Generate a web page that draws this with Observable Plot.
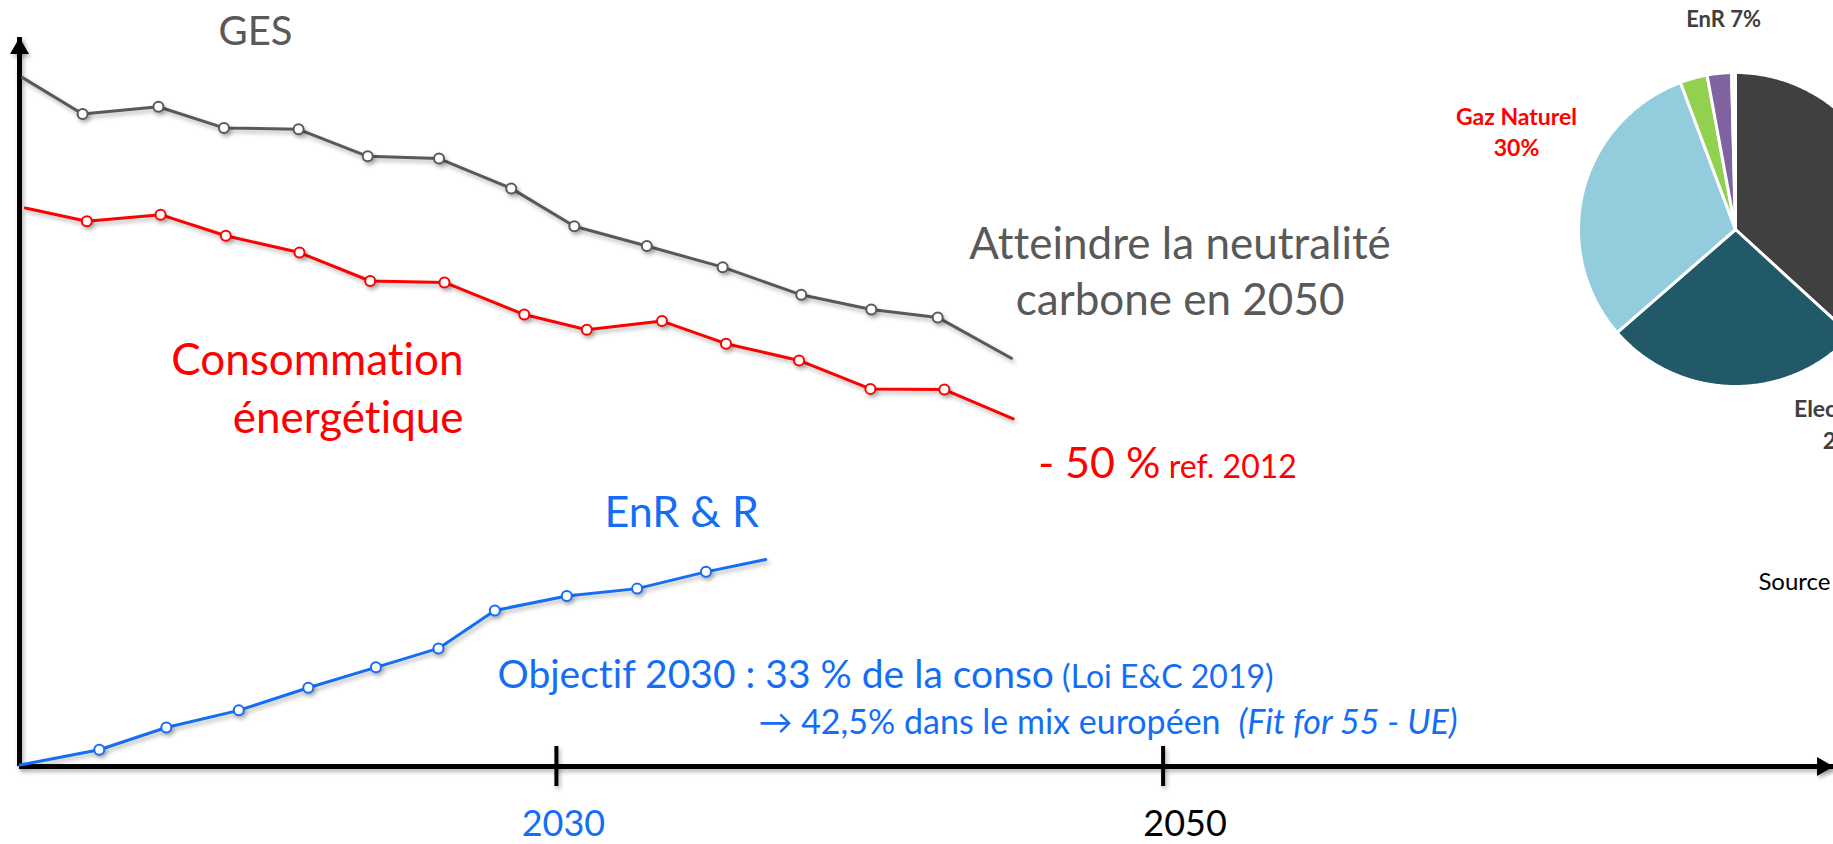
<!DOCTYPE html>
<html><head><meta charset="utf-8">
<script src="https://cdn.jsdelivr.net/npm/d3@7"></script>
<script src="https://cdn.jsdelivr.net/npm/@observablehq/plot@0.6"></script>
<style>
html,body{margin:0;padding:0;background:#fff;}
body{width:1833px;height:844px;overflow:hidden;position:relative;font-family:Lato,sans-serif;}
#main{position:absolute;left:0;top:0;width:1833px;height:844px;}
#pie{position:absolute;left:1400px;top:0;width:500px;height:620px;}
svg text{font-variant-ligatures:none;font-feature-settings:"liga" 0;}
</style></head><body>
<div id="main"></div><div id="pie"></div>
<script>
// ---------- data (schematic index values) ----------
const gesYears   = [2012.4, 2014.38, 2016.88, 2019.04, 2021.5, 2023.78, 2026.13, 2028.51, 2030.59, 2032.98, 2035.48, 2038.07, 2040.38, 2042.57, 2045.0];
const gesValues  = [94.5, 89.5, 90.5, 87.6, 87.4, 83.7, 83.4, 79.3, 74.1, 71.4, 68.5, 64.7, 62.7, 61.6, 56.0];
const consoYears  = [2012.49, 2014.52, 2016.95, 2019.1, 2021.53, 2023.86, 2026.31, 2028.94, 2031.0, 2033.48, 2035.59, 2038.0, 2040.35, 2042.79, 2045.06];
const consoValues = [76.6, 74.8, 75.7, 72.8, 70.5, 66.6, 66.4, 62.0, 59.9, 61.1, 58.0, 55.7, 51.8, 51.7, 47.7];
const enrYears  = [2012.32, 2014.93, 2017.14, 2019.53, 2021.82, 2024.05, 2026.11, 2027.97, 2030.34, 2032.66, 2034.93, 2036.9];
const enrValues = [0.2, 2.3, 5.35, 7.7, 10.8, 13.6, 16.2, 21.4, 23.4, 24.4, 26.7, 28.4];
const tickYears  = [2030, 2050];
const tickLabels = ["2030", "2050"];
const mixCategories = ["Autres", "Electricité", "Gaz Naturel", "EnR a", "EnR b", "EnR c"];
const mixShares     = [36.8, 26.8, 30.7, 2.8, 2.5, 0.4];
// texts
const gesTitle   = "GES";
const gesNote    = "Atteindre la neutralité\ncarbone en 2050";
const consoTitle = "Consommation\nénergétique";
const consoGoal  = "- 50 %";
const consoRef   = " ref. 2012";
const enrTitle   = "EnR & R";
const enrGoal1   = "Objectif 2030 : 33 % de la conso";
const enrGoal1b  = " (Loi E&C 2019)";
const enrGoal2   = "→ 42,5% dans le mix européen";
const enrGoal2b  = "(Fit for 55 - UE)";
const pieLabelEnR  = "EnR 7%";
const pieLabelGaz  = "Gaz Naturel\n30%";
const pieLabelElec = "Electricité\n27%";
const sourceLabel  = "Source";

// ---------- styles ----------
const GREY = "#595959", RED = "#FF0000", BLUE = "#146EF5";
const xDomain = [2012.3, 2072.1];
const yDomain = [0, 100];

const toRows = (xs, vs) => xs.map((year, i) => ({year, value: vs[i]}));
const ges = toRows(gesYears, gesValues);
const conso = toRows(consoYears, consoValues);
const enr = toRows(enrYears, enrValues);

function series(rows, color) {
  const n = rows.length;
  return [
    Plot.line(rows, {x: "year", y: "value", stroke: color, strokeWidth: 3}),
    Plot.dot(rows.filter((d, i) => i > 0 && i < n - 1), {x: "year", y: "value", r: 5, fill: "white", stroke: color, strokeWidth: 2})
  ];
}

const main = Plot.plot({
  width: 1833, height: 844,
  marginLeft: 19, marginRight: 0, marginTop: 37, marginBottom: 78,
  style: {fontFamily: "Lato, sans-serif", background: "transparent", overflow: "visible", maxWidth: "none"},
  x: {domain: xDomain, axis: null},
  y: {domain: yDomain, axis: null},
  marks: [
    // axes
    Plot.ruleY([yDomain[0]], {stroke: "black", strokeWidth: 5}),
    Plot.ruleX([xDomain[0]], {y1: yDomain[0], y2: yDomain[1], stroke: "black", strokeWidth: 5}),
    Plot.dot([{x: xDomain[0], y: yDomain[1]}], {x: "x", y: "y", symbol: "triangle", r: 7, fill: "black", dy: 11}),
    Plot.dot([{x: xDomain[1], y: yDomain[0]}], {x: "x", y: "y", symbol: "triangle", r: 7, fill: "black", rotate: 90, dx: -11}),
    Plot.ruleX(tickYears, {y1: -2.75, y2: 2.75, stroke: "black", strokeWidth: 4}),
    Plot.text(tickLabels.slice(0, 1), {x: () => tickYears[0], y: () => -9.6, dx: 7, lineAnchor: "bottom", fontSize: 36, fill: BLUE}),
    Plot.text(tickLabels.slice(1, 2), {x: () => tickYears[1], y: () => -9.6, dx: 22, lineAnchor: "bottom", fontSize: 36, fill: "black"}),
    // series
    ...series(ges, GREY),
    ...series(conso, RED),
    ...series(enr, BLUE),
    // annotations
    Plot.text([gesTitle], {x: () => 2020.08, y: () => 99.0, lineAnchor: "bottom", fontSize: 40, fill: GREY}),
    Plot.text([gesNote], {x: () => 2050.56, y: () => 62.0, lineAnchor: "bottom", lineHeight: 1.27, fontSize: 44, fill: GREY}),
    Plot.text([consoTitle], {x: () => 2026.94, y: () => 45.8, textAnchor: "end", lineAnchor: "bottom", lineHeight: 1.3, fontSize: 44, fill: RED}),
    Plot.text([consoGoal], {x: () => 2045.88, y: () => 39.6, textAnchor: "start", lineAnchor: "bottom", fontSize: 43, fill: RED}),
    Plot.text([enrTitle], {x: () => 2034.13, y: () => 32.8, lineAnchor: "bottom", fontSize: 43, fill: BLUE}),
    Plot.text([enrGoal1], {x: () => 2028.06, y: () => 10.8, textAnchor: "start", lineAnchor: "bottom", fontSize: 39, fill: BLUE}),
    Plot.text([enrGoal2], {x: () => 2036.66, y: () => 4.5, textAnchor: "start", lineAnchor: "bottom", fontSize: 34, fill: BLUE})
  ]
});
document.getElementById("main").appendChild(main);

// mixed-style continuations as tspans
const svgSel = d3.select(main);
function extend(base, extra, attrs) {
  svgSel.selectAll("text").filter(function() { return this.textContent === base; }).each(function() {
    const t = d3.select(this).append("tspan").text(extra);
    for (const k in attrs) t.attr(k, attrs[k]);
  });
}
extend(consoGoal, consoRef, {"font-size": 32});
extend(enrGoal1, enrGoal1b, {"font-size": 32});
extend(enrGoal2, enrGoal2b, {"font-style": "italic", "dx": 18});

// soft drop shadows like the slide
svgSel.selectAll('g[aria-label="line"], g[aria-label="dot"], g[aria-label="rule"]')
  .style("filter", "drop-shadow(2px 3px 2px rgba(0,0,0,0.28))");

// ---------- pie ----------
const R = 157, cx = 335, cy = 229, pw = 500, ph = 620;
const mix = mixCategories.map((cat, i) => ({cat, share: mixShares[i]}));
const arcs = d3.pie().sort(null).value(d => d.share)(mix);
const piePts = arcs.flatMap(a => {
  const n = Math.max(2, Math.ceil((a.endAngle - a.startAngle) / 0.01));
  const pts = [{cat: a.data.cat, u: 0, v: 0}];
  for (let k = 0; k <= n; k++) {
    const t = a.startAngle + (a.endAngle - a.startAngle) * k / n;
    pts.push({cat: a.data.cat, u: Math.sin(t), v: Math.cos(t)});
  }
  pts.push({cat: a.data.cat, u: 0, v: 0});
  return pts;
});
const pie = Plot.plot({
  width: pw, height: ph, margin: 0,
  style: {fontFamily: "Lato, sans-serif", background: "transparent", overflow: "visible", maxWidth: "none"},
  x: {domain: [-cx / R, (pw - cx) / R], axis: null},
  y: {domain: [-(ph - cy) / R, cy / R], axis: null},
  color: {domain: mixCategories, range: ["#404040", "#215968", "#93CDDD", "#92D050", "#8064A2", "#FFFF99"]},
  marks: [
    Plot.line(piePts, {x: "u", y: "v", z: "cat", fill: "cat", stroke: "white", strokeWidth: 3, strokeLinejoin: "round"}),
    Plot.text([pieLabelEnR], {x: () => -0.076, y: () => 1.287, lineAnchor: "bottom", fontSize: 22, fontWeight: "bold", fill: "#404040"}),
    Plot.text([pieLabelGaz], {x: () => -1.395, y: () => 0.465, lineAnchor: "bottom", lineHeight: 1.39, fontSize: 23, fontWeight: "bold", fill: RED}),
    Plot.text([pieLabelElec], {x: () => 0.70, y: () => -1.401, lineAnchor: "bottom", lineHeight: 1.4, fontSize: 23, fontWeight: "bold", fill: "#404040"}),
    Plot.text([sourceLabel], {x: () => 0.146, y: () => -2.293, textAnchor: "start", lineAnchor: "bottom", fontSize: 24, fill: "black"})
  ]
});
document.getElementById("pie").appendChild(pie);
</script>
</body></html>
